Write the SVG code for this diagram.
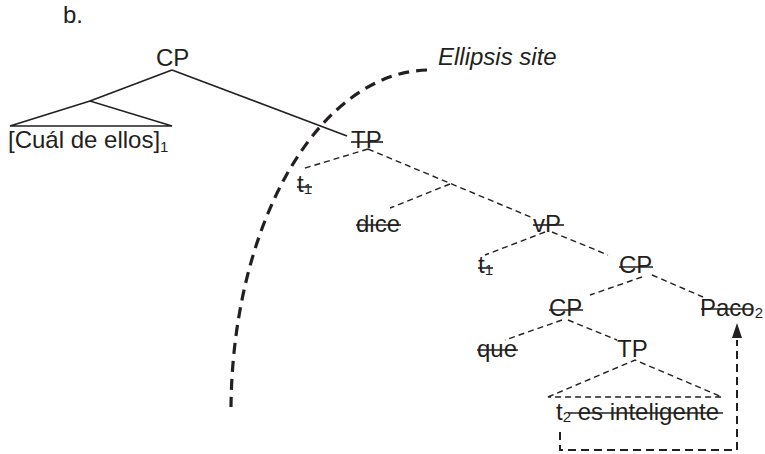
<svg xmlns="http://www.w3.org/2000/svg" width="765" height="454" viewBox="0 0 765 454">
<style>
  text { font-family: "Liberation Sans", Arial, sans-serif; font-size: 24px; fill: #231f20; }
  .it { font-style: italic; }
  .sub { font-size: 15px; }
  .solid { stroke: #231f20; stroke-width: 1.6; fill: none; }
  .dash { stroke: #231f20; stroke-width: 1.4; fill: none; stroke-dasharray: 6 4; }
  .strike { stroke: #231f20; stroke-width: 1.6; }
  .arc { stroke: #231f20; stroke-width: 3.2; fill: none; stroke-dasharray: 11 7; }
  .bigdash { stroke: #231f20; stroke-width: 2; fill: none; stroke-dasharray: 8 5; }
  .head { fill: #231f20; }
</style>
<rect width="765" height="454" fill="#ffffff"/>

<g id="connectors">
  <line class="solid" x1="172" y1="70" x2="90" y2="101"/>
  <line class="solid" x1="172" y1="70" x2="347" y2="136"/>
  <path class="solid" d="M90 101 L10 126 L172 126 Z"/>
  <line class="dash" x1="368" y1="149" x2="302" y2="169"/>
  <line class="dash" x1="368" y1="149" x2="533" y2="218"/>
  <line class="dash" x1="450" y1="184" x2="390" y2="208"/>
  <line class="dash" x1="545" y1="232" x2="485" y2="255"/>
  <line class="dash" x1="552" y1="232" x2="608" y2="255"/>
  <line class="dash" x1="642" y1="277" x2="590" y2="295"/>
  <line class="dash" x1="652" y1="275" x2="703" y2="297"/>
  <line class="dash" x1="562" y1="320" x2="505" y2="340"/>
  <line class="dash" x1="568" y1="320" x2="617" y2="340"/>
  <path class="dash" d="M548 397 L635 360 L722 397 Z"/>
  <path class="arc" d="M427 70 A199 342 0 0 0 231 407"/>
  <path class="bigdash" d="M560 432 L560 450 L737 450 L737 340"/>
  <polygon class="head" points="737,323 742,338 732,338"/>
</g>

<g id="label-b"><text x="63" y="23">b.</text></g>
<g id="node-CP-top"><text x="156" y="66">CP</text></g>
<g id="node-cual"><text x="8" y="148">[Cuál de ellos]<tspan class="sub" dy="4">1</tspan></text></g>
<g id="label-ellipsis"><text class="it" x="438" y="65">Ellipsis site</text></g>

<g id="node-TP-struck">
  <text x="351" y="148">TP</text>
  <line class="strike" x1="351" y1="142" x2="383" y2="142"/>
</g>
<g id="node-t1-a">
  <text x="297" y="192">t<tspan class="sub" dy="2">1</tspan></text>
  <line class="strike" x1="297" y1="187" x2="312" y2="187"/>
</g>
<g id="node-dice">
  <text x="356" y="232">dice</text>
  <line class="strike" x1="356" y1="225" x2="401" y2="225"/>
</g>
<g id="node-vP">
  <text x="533" y="232">vP</text>
  <line class="strike" x1="533" y1="225" x2="564" y2="225"/>
</g>
<g id="node-t1-b">
  <text x="478" y="273">t<tspan class="sub" dy="2">1</tspan></text>
  <line class="strike" x1="478" y1="268" x2="493" y2="268"/>
</g>
<g id="node-CP-struck">
  <text x="619" y="273">CP</text>
  <line class="strike" x1="619" y1="267" x2="653" y2="267"/>
</g>
<g id="node-CP2">
  <text x="549" y="316">CP</text>
  <line class="strike" x1="549" y1="310" x2="583" y2="310"/>
</g>
<g id="node-Paco">
  <text x="700" y="316">Paco<tspan class="sub" dy="2">2</tspan></text>
  <line class="strike" x1="701" y1="309" x2="753" y2="309"/>
</g>
<g id="node-que">
  <text x="477" y="357">que</text>
  <line class="strike" x1="477" y1="350" x2="518" y2="350"/>
</g>
<g id="node-TP">
  <text x="617" y="357">TP</text>
</g>
<g id="node-t2">
  <text x="556" y="420">t<tspan class="sub" dy="2">2</tspan><tspan dy="-2"> es inteligente</tspan></text>
  <line class="strike" x1="568" y1="413" x2="723" y2="413"/>
</g>
</svg>
